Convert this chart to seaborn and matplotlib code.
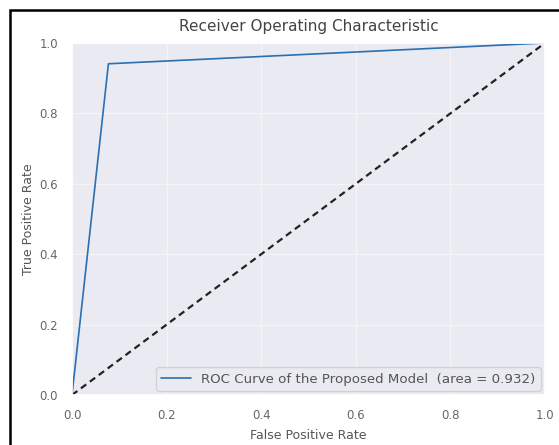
import matplotlib
matplotlib.use("Agg")
import matplotlib.pyplot as plt
import seaborn as sns
import numpy as np
from matplotlib.patches import Rectangle

fpr = [0.0, 0.077, 1.0]
tpr = [0.0, 0.941, 1.0]
roc_auc = 0.932
chance = [0.0, 1.0]

sns.set_theme(style="darkgrid", rc={"grid.color": "#f3f3f8", "grid.linewidth": 0.9,
                                    "axes.facecolor": "#eaeaf2"})
plt.rcParams['font.family'] = ['DejaVu Sans']

fig = plt.figure(figsize=(5.59, 4.45), dpi=100)
ax = fig.add_axes([72/559, 1-395/445, (545-72)/559, (395-43)/445])

sns.lineplot(x=fpr, y=tpr, ax=ax, color='#2a6fb0', lw=1.2,
             label='ROC Curve of the Proposed Model  (area = %0.3f)' % roc_auc)
sns.lineplot(x=chance, y=chance, ax=ax, color='#222222', lw=1.6, linestyle='--')
ax.lines[1].set_dashes([3, 2])

ax.set_xlim(0, 1)
ax.set_ylim(0, 1)
ax.set_title('Receiver Operating Characteristic', fontsize=11, color='#444444', pad=9)
ax.set_xlabel('False Positive Rate', fontsize=9, color='#555555', labelpad=5)
ax.set_ylabel('True Positive Rate', fontsize=9, color='#555555', labelpad=3)
ax.tick_params(labelsize=8.5, labelcolor='#666666', pad=4)
leg = ax.legend(loc='lower right', fontsize=9.6, frameon=True, borderaxespad=0.3,
                handlelength=2.2)
for t in leg.get_texts():
    t.set_color('#555555')

fig.patches.append(Rectangle((10/559, -0.1), 1.2, 1 - 10/445 + 0.1,
                             transform=fig.transFigure, fill=False,
                             edgecolor='black', lw=1.8))
fig.savefig('out.png', dpi=100)
